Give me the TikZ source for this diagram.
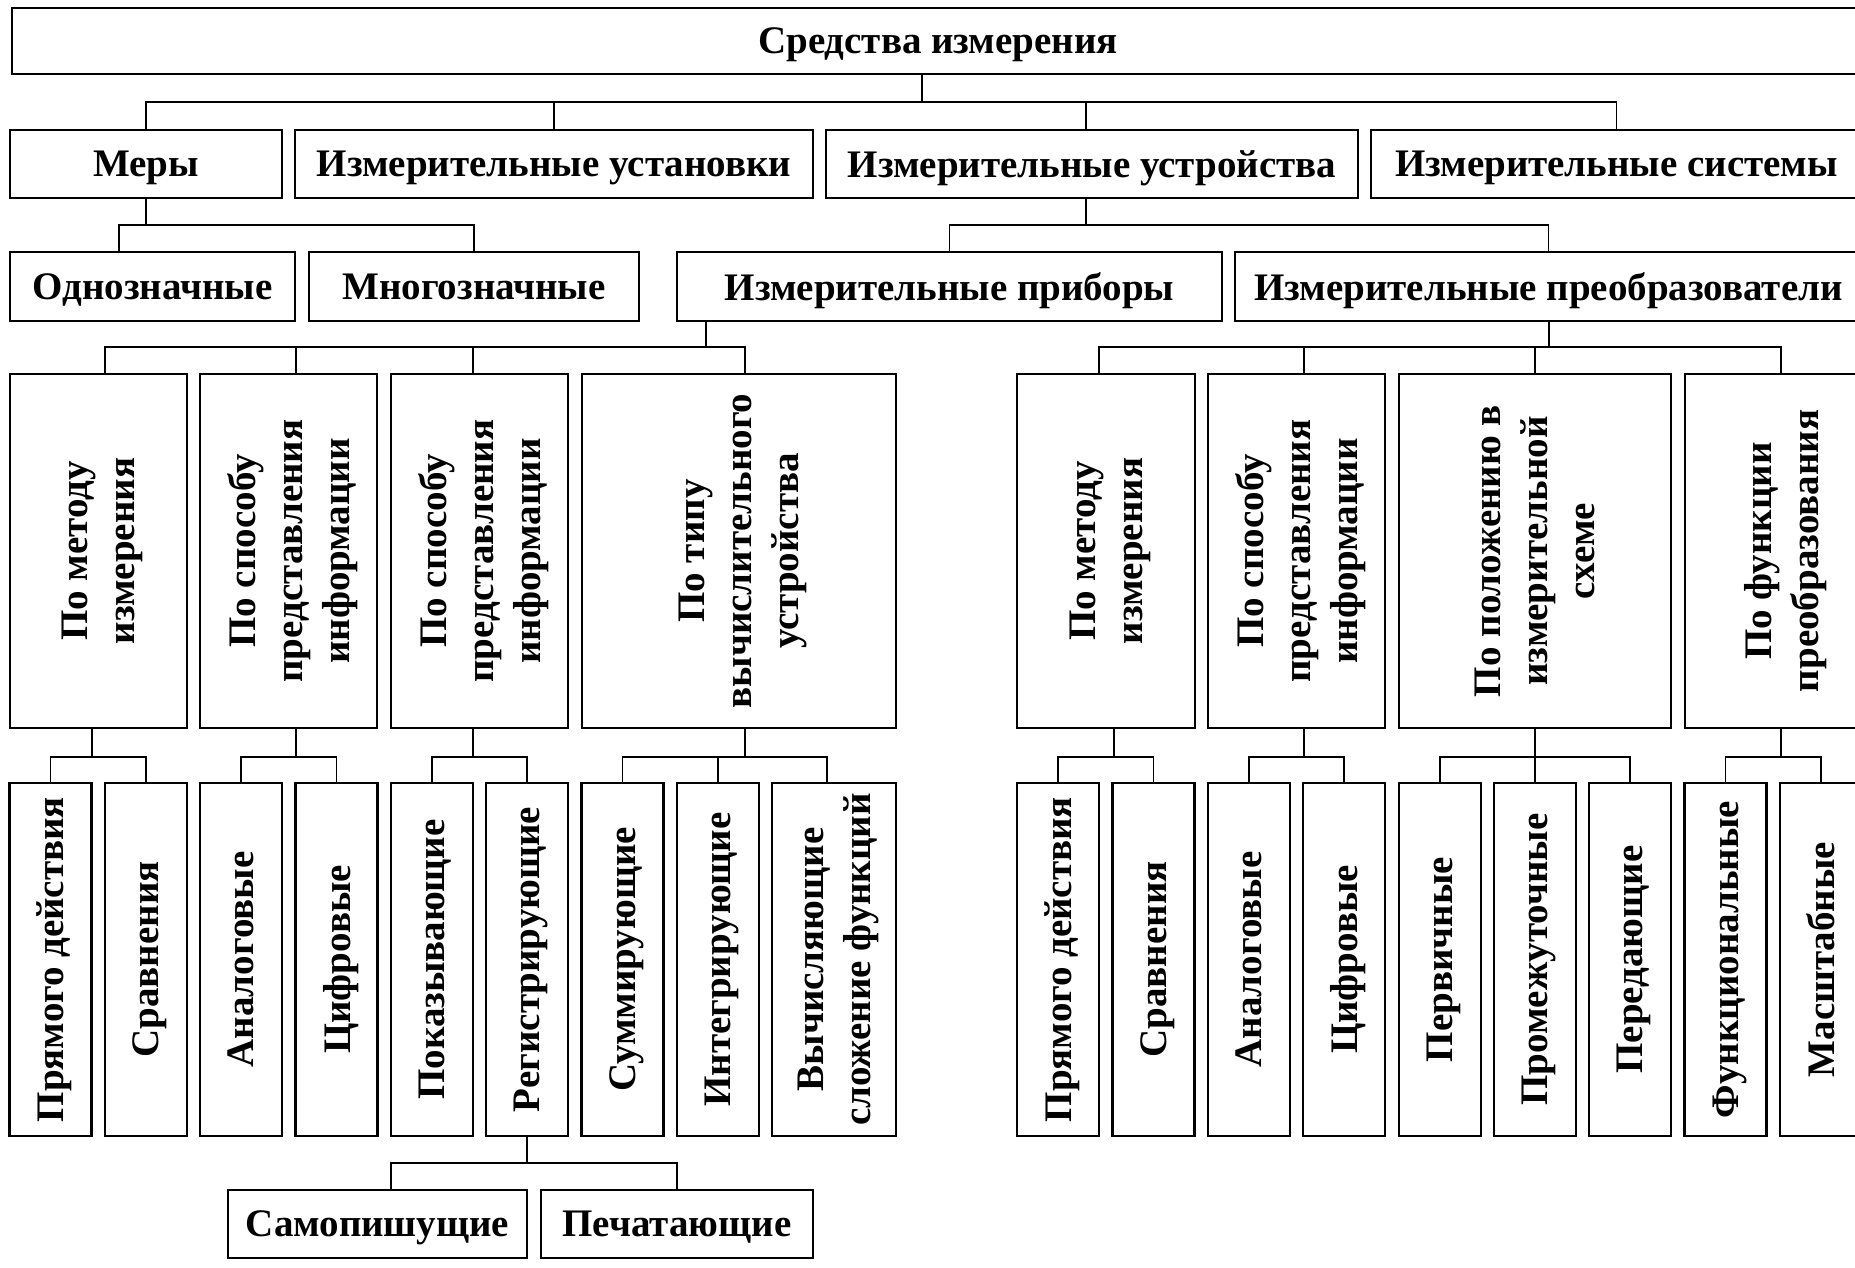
\documentclass[tikz,border=0pt]{standalone}
\usepackage{fontspec}
\setmainfont{Liberation Serif}
\begin{document}
\begin{tikzpicture}[x=1pt,y=-1pt,
  box/.style={draw, line width=2.2pt, inner sep=0pt, align=center, text depth=0pt,
    font=\fontsize{39}{47}\selectfont\bfseries},
  vbox/.style={box, rotate=90},
  conn/.style={line width=1.8pt, line cap=rect}]
\useasboundingbox (0,0) rectangle (1855,1267);
\clip (0,0) rectangle (1855,1267);
\fill[white] (0,0) rectangle (1855,1267);

% ---------- level 0
\node[box, minimum width=1852, minimum height=66] (top) at (938,41) {Средства измерения};

% ---------- level 1 (y 130..198)
\node[box, minimum width=272, minimum height=68] (mery) at (146,164) {Меры};
\node[box, minimum width=518, minimum height=68] (ustan) at (554,164) {Измерительные установки};
\node[box, minimum width=532, minimum height=68] (ustr) at (1092,164) {Измерительные устройства};
\node[box, minimum width=491, minimum height=68] (sist) at (1616.5,164) {Измерительные системы};

% ---------- level 2 (y 252..321)
\node[box, minimum width=285, minimum height=69] (odn) at (152.5,286.5) {Однозначные};
\node[box, minimum width=330, minimum height=69] (mnog) at (474,286.5) {Многозначные};
\node[box, minimum width=545, minimum height=69] (prib) at (949.5,286.5) {Измерительные приборы};
\node[box, minimum width=627, minimum height=69] (preob) at (1548.5,286.5) {Измерительные преобразователи};

% ---------- level 3 (y 374..728), vertical text
\node[vbox, minimum width=354, minimum height=177] (a1) at (98.5,551) {По методу\\измерения};
\node[vbox, minimum width=354, minimum height=177] (a2) at (288.5,551) {По способу\\представления\\информации};
\node[vbox, minimum width=354, minimum height=177] (a3) at (479.5,551) {По способу\\представления\\информации};
\node[vbox, minimum width=354, minimum height=314] (a4) at (739,551) {По типу\\вычислительного\\устройства};
\node[vbox, minimum width=354, minimum height=178] (b1) at (1106,551) {По методу\\измерения};
\node[vbox, minimum width=354, minimum height=177] (b2) at (1296.5,551) {По способу\\представления\\информации};
\node[vbox, minimum width=354, minimum height=272] (b3) at (1535,551) {По положению в\\измерительной\\схеме};
\node[vbox, minimum width=354, minimum height=192] (b4) at (1781,551) {По функции\\преобразования};

% ---------- level 4 (y 783..1136)
\tikzset{leaf/.style={vbox, minimum width=353, minimum height=82}}
\node[leaf] (l1) at (50.5,959.5) {Прямого действия};
\node[leaf] (l2) at (146,959.5) {Сравнения};
\node[leaf] (l3) at (241,959.5) {Аналоговые};
\node[leaf] (l4) at (336.5,959.5) {Цифровые};
\node[leaf] (l5) at (432,959.5) {Показывающие};
\node[leaf] (l6) at (527,959.5) {Регистрирующие};
\node[leaf] (l7) at (622.5,959.5) {Суммирующие};
\node[leaf] (l8) at (718,959.5) {Интегрирующие};
\node[leaf, minimum height=124] (l9) at (834,959.5) {Вычисляющие\\сложение функций};
\node[leaf] (r1) at (1058,959.5) {Прямого действия};
\node[leaf] (r2) at (1153.5,959.5) {Сравнения};
\node[leaf] (r3) at (1249,959.5) {Аналоговые};
\node[leaf] (r4) at (1344,959.5) {Цифровые};
\node[leaf] (r5) at (1440,959.5) {Первичные};
\node[leaf] (r6) at (1535,959.5) {Промежуточные};
\node[leaf] (r7) at (1630,959.5) {Передающие};
\node[leaf] (r8) at (1725.5,959.5) {Функциональные};
\node[leaf] (r9) at (1821,959.5) {Масштабные};

% ---------- level 5 (y 1190..1258)
\node[box, minimum width=299, minimum height=68] (sam) at (377.5,1224) {Самопишущие};
\node[box, minimum width=272, minimum height=68] (pech) at (677,1224) {Печатающие};

% ---------- connectors
% top -> level 1 (bus y=102)
\draw[conn] (922,0 |- top.south) -- (922,102);
\draw[conn] (mery.north) -- (146,102) -| (sist.north);
\draw[conn] (ustan.north) -- (554,102);
\draw[conn] (1086,0 |- ustr.north) -- (1086,102);

% Меры -> level 2 (bus y=225)
\draw[conn] (mery.south) -- (146,225);
\draw[conn] (119,0 |- odn.north) -- (119,225) -| (mnog.north);

% Устройства -> level 2 (bus y=225)
\draw[conn] (1086,0 |- ustr.south) -- (1086,225);
\draw[conn] (prib.north) -- (prib.north |- 0,225) -| (preob.north);

% Приборы -> level 3 (bus y=347)
\draw[conn] (706,0 |- prib.south) -- (706,347);
\draw[conn] (105,0 |- a1.east) -- (105,347) -| (745,0 |- a4.east);
\draw[conn] (296,0 |- a2.east) -- (296,347);
\draw[conn] (473,0 |- a3.east) -- (473,347);

% Преобразователи -> level 3
\draw[conn] (1549,0 |- preob.south) -- (1549,347);
\draw[conn] (1099,0 |- b1.east) -- (1099,347) -| (b4.east);
\draw[conn] (1304,0 |- b2.east) -- (1304,347);
\draw[conn] (b3.east) -- (b3.east |- 0,347);

% level 3 -> level 4 (bus y=757)
\draw[conn] (92,0 |- a1.west) -- (92,757);
\draw[conn] (l1.east) -- (l1.east |- 0,757) -| (l2.east);
\draw[conn] (296,0 |- a2.west) -- (296,757);
\draw[conn] (l3.east) -- (l3.east |- 0,757) -| (l4.east);
\draw[conn] (473,0 |- a3.west) -- (473,757);
\draw[conn] (l5.east) -- (l5.east |- 0,757) -| (l6.east);
\draw[conn] (745,0 |- a4.west) -- (745,757);
\draw[conn] (l7.east) -- (l7.east |- 0,757) -| (827,0 |- l9.east);
\draw[conn] (l8.east) -- (l8.east |- 0,757);

\draw[conn] (1114,0 |- b1.west) -- (1114,757);
\draw[conn] (r1.east) -- (r1.east |- 0,757) -| (r2.east);
\draw[conn] (1304,0 |- b2.west) -- (1304,757);
\draw[conn] (r3.east) -- (r3.east |- 0,757) -| (r4.east);
\draw[conn] (b3.west) -- (r6.east);
\draw[conn] (r5.east) -- (r5.east |- 0,757) -| (r7.east);
\draw[conn] (b4.west) -- (b4.west |- 0,757);
\draw[conn] (r8.east) -- (r8.east |- 0,757) -| (r9.east);

% Регистрирующие -> level 5 (bus y=1163)
\draw[conn] (l6.west) -- (l6.west |- 0,1163);
\draw[conn] (391,0 |- sam.north) -- (391,1163) -| (pech.north);
\end{tikzpicture}
\end{document}
